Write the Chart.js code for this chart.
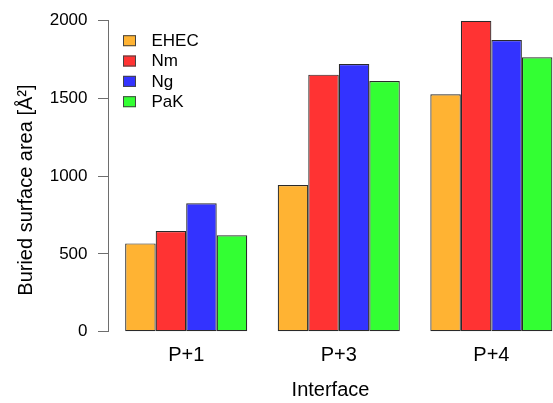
<!DOCTYPE html>
<html>
<head>
<meta charset="utf-8">
<script src="https://cdn.jsdelivr.net/npm/chart.js@4"></script>
<style>
  html, body { margin: 0; padding: 0; background: #fff; }
  #wrap { width: 553px; height: 403px; }
</style>
</head>
<body>
<div id="wrap"><canvas id="diagramBatang" width="553" height="403"></canvas></div>
<script>
// data
const interfaces = ["P+1", "P+3", "P+4"];
const species = ["EHEC", "Nm", "Ng", "PaK"];
const ehec = [568, 943, 1527];
const nm = [647, 1653, 2000];
const ng = [826, 1722, 1876];
const pak = [620, 1612, 1765];
const yTicks = [0, 500, 1000, 1500, 2000];
const warna = ["#ffb333", "#ff3333", "#3333ff", "#33ff33"];

const seri = [ehec, nm, ng, pak];
const fontFam = "'Liberation Sans', Arial, Helvetica, sans-serif";
const abu = "#6e6e6e";

// legend drawn like R's legend() box
const legendR = {
  id: "legendR",
  afterDraw(chart) {
    const ctx = chart.ctx;
    const a = chart.chartArea;
    ctx.save();
    ctx.font = "17px " + fontFam;
    ctx.textBaseline = "middle";
    ctx.textAlign = "left";
    chart.data.datasets.forEach((ds, i) => {
      const cy = a.top + 20 + i * 20.33;
      ctx.fillStyle = ds.backgroundColor;
      ctx.fillRect(a.left + 15, cy - 5.5, 13, 11);
      ctx.strokeStyle = "#444";
      ctx.lineWidth = 1;
      ctx.strokeRect(a.left + 15.5, cy - 5, 12, 10);
      ctx.fillStyle = "#000";
      ctx.fillText(ds.label, a.left + 43.5, cy + 0.5);
    });
    ctx.restore();
  }
};

new Chart("diagramBatang", {
  type: "bar",
  data: {
    datasets: species.map((s, i) => ({
      label: s,
      data: seri[i].map((v, j) => ({x: j, y: v})),
      backgroundColor: warna[i],
      borderColor: "#2a2a2a",
      borderWidth: 1.2,
      borderSkipped: false,
      barPercentage: 1,
      categoryPercentage: 0.8
    }))
  },
  options: {
    responsive: false,
    animation: false,
    layout: {padding: {top: 20.7, left: 0, right: 0, bottom: 0}},
    plugins: {
      legend: {display: false},
      tooltip: {enabled: false}
    },
    scales: {
      x: {
        type: "linear",
        offset: false,
        min: -0.5125,
        max: 2.404,
        grid: {display: false, drawTicks: false, offset: false},
        border: {display: false},
        afterBuildTicks: (sc) => { sc.ticks = interfaces.map((c, i) => ({value: i})); },
        afterFit: (sc) => { sc.height = 71.3; },
        ticks: {
          padding: 12,
          color: "#000",
          font: {family: fontFam, size: 20},
          maxRotation: 0,
          callback: (v) => interfaces[v]
        },
        title: {
          display: true,
          text: "Interface",
          color: "#000",
          font: {family: fontFam, size: 20},
          padding: {top: 0, bottom: 1}
        }
      },
      y: {
        min: 0,
        max: 2000,
        afterBuildTicks: (sc) => { sc.ticks = yTicks.map(v => ({value: v})); },
        afterFit: (sc) => { sc.width = 108; },
        grid: {drawOnChartArea: false, drawTicks: true, tickLength: 10, color: abu, lineWidth: 1},
        border: {display: true, color: abu, width: 1},
        ticks: {
          padding: 10.5,
          color: "#000",
          font: {family: fontFam, size: 17},
          callback: (v) => String(v)
        },
        title: {
          display: true,
          text: "Buried surface area [Å²]     ",
          color: "#000",
          font: {family: fontFam, size: 20},
          padding: {top: 14.5, bottom: 0}
        }
      }
    }
  },
  plugins: [legendR]
});
</script>
</body>
</html>
